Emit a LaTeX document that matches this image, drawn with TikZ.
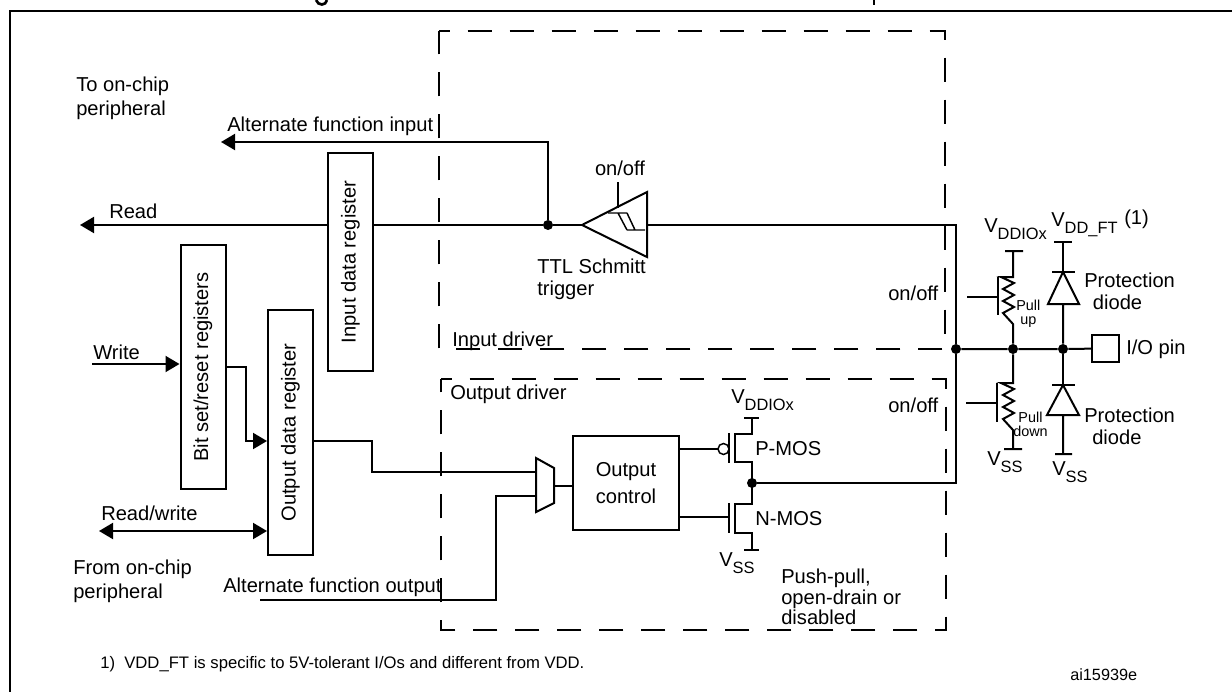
\documentclass[tikz,border=0pt]{standalone}
\usepackage{fontspec}
\setmainfont{Liberation Sans}
\usepackage{xcolor}
\usetikzlibrary{arrows.meta, calc}
\newcommand{\vsub}[1]{V\raisebox{-5pt}{\fontsize{12.3}{14}\selectfont #1}}
\tikzset{
  wire/.style={line width=1.5pt},
  lbl/.style={inner sep=0pt, align=left, font=\fontsize{15.1}{18}\selectfont},
  tiny/.style={inner sep=0pt, align=center, font=\fontsize{10.8}{10.5}\selectfont},
  dot/.style={circle, fill=black, inner sep=0pt, minimum size=7.5pt},
  regbox/.style={draw, fill=white, line width=1.5pt, inner sep=0pt, rotate=90, minimum height=33.75pt, font=\fontsize{15.1}{18}\selectfont},
  dashbox/.style={line width=1.5pt, dash pattern=on 18pt off 13.5pt, dash phase=10pt}
}
\begin{document}
\begin{tikzpicture}[x=0.75pt, y=-0.75pt, >={Triangle[length=10.5pt,width=12pt]}]
  \useasboundingbox (0,0) rectangle (1232,692);
  % Frame and what is left of the cut off heading
  \draw[line width=2.2pt] (10,692) -- (10,11) -- (1232,11);
  \draw[line width=2pt] (316,0) .. controls (318,6) and (326,6) .. (327,0);
  \draw[line width=2pt] (874,0) -- (874,5);
  % Driver boxes
  \draw[dashbox] (439,31) -- (945,31) -- (945,349) -- (439,349) -- cycle;
  \draw[dashbox] (441,379) -- (946,379) -- (946,630) -- (441,630) -- cycle;
  % Registers
  \node[regbox, minimum width=163.5pt] (inreg) at (350.5,262) {Input data register};
  \node[regbox, minimum width=183pt] (bitreg) at (203,367) {Bit set/reset registers};
  \node[regbox, minimum width=183.75pt] (outreg) at (290.5,432.5) {Output data register};
  \node[draw, line width=1.5pt, minimum width=79.5pt, minimum height=70.5pt, inner sep=0pt, align=center, font=\fontsize{15.1}{20}\selectfont] (ctrl) at (626,483) {Output\\control};
  \node[draw, line width=1.2pt, minimum size=20.25pt, inner sep=0pt] (pin) at (1105.5,348.5) {};
  % Junctions
  \node[dot] (readdot) at (548,225) {};
  \node[dot] (busdot) at (956,349) {};
  \node[dot] (pulldot) at (1013,349) {};
  \node[dot] (diodedot) at (1063,349) {};
  \node[dot] (pushdot) at (752,483) {};
  % Free ends
  \coordinate (readtip) at (80,225);
  \coordinate (aftip) at (221,142);
  \coordinate (writein) at (92,364);
  \coordinate (rwtip) at (99,531);
  \coordinate (afout) at (260,600);
  \coordinate (bufin) at (582,225);
  \coordinate (bufout) at (647,225);
  \coordinate (muxa) at (536,472);
  \coordinate (muxb) at (536,496);
  \coordinate (muxout) at (554,486);
  % Input path
  \path[wire, <-] (readtip) edge (inreg.north |- readtip);
  \draw[wire] (inreg.south |- readtip) -- (readdot) -- (bufin);
  \draw[wire, ->] (readdot) |- (aftip);
  \draw[wire] (bufout) -| (busdot);
  \draw[wire] (busdot) |- (pushdot);
  % Schmitt buffer
  \draw[wire] (bufin) -- (647,192) -- (647,257) -- cycle;
  \draw[line width=1.1pt] (618,182) -- (618,208);
  \draw[line width=1.1pt] (608,213) -- (627,213) (618,213) -- (627,230) (627,213) -- (635,230) (627,230) -- (645,230);
  % Output path
  \path[wire, ->] (writein) edge (bitreg.north |- writein);
  \draw[wire, ->] (bitreg.south |- 0,367) -- (246,367) |- (outreg.north |- 0,441);
  \path[wire, <->] (rwtip) edge (outreg.north |- rwtip);
  \draw[wire] (outreg.south |- 0,441) -- (372,441) |- (muxa);
  \draw[wire] (afout) -| (496,496) -- (muxb);
  \draw[wire] (536,458) -- (554,468) -- (554,503) -- (536,512) -- cycle;
  \draw[wire] (muxout) -- (ctrl.west |- muxout);
  % P-MOS and N-MOS
  \draw[wire] (ctrl.east |- 0,449) -- (718,449);
  \draw[line width=1.1pt] (723.5,449) circle[radius=5.5];
  \draw[wire] (729,433) -- (729,463);
  \draw[wire] (744,418) -- (759,418) (752,418) -- (752,434) -- (735,434) -- (735,462) -- (752,462) -- (752,504) -- (735,504) -- (735,533) -- (752,533) -- (752,550) (744,550) -- (759,550);
  \draw[wire] (ctrl.east |- 0,517) -- (729,517);
  \draw[wire] (729,503) -- (729,533);
  % Pull resistors
  \draw[wire] (1005,251) -- (1023,251) (1013,251) -- (1013,277) -- (1001,277) -- (1014,283) -- (1003,289) -- (1014,295) -- (1003,301) -- (1014,307) -- (1003,313) -- (1013,324) -- (pulldot);
  \draw[wire] (998,277) -- (998,315) (967,297) -- (998,297);
  \draw[wire] (pulldot) -- (1013,383) -- (1001,383) -- (1014,389) -- (1003,395) -- (1014,401) -- (1003,407) -- (1014,413) -- (1003,419) -- (1013,430) -- (1013,449) (1004,449) -- (1022,449);
  \draw[wire] (997,383) -- (997,422) (966,403) -- (997,403);
  % Protection diodes
  \draw[wire] (1054,242) -- (1072,242) (1063,242) -- (1063,272) (1052,272) -- (1075,272);
  \draw[wire] (1063,272) -- (1048,304) -- (1079,304) -- cycle (1063,304) -- (diodedot);
  \draw[wire] (diodedot) -- (1063,385) (1052,385) -- (1075,385);
  \draw[wire] (1063,385) -- (1047,415) -- (1079,415) -- cycle (1063,415) -- (1063,454) (1055,454) -- (1072,454);
  % Bus to the pin
  \draw[wire] (busdot) -- (pulldot) -- (diodedot) -- (pin);
  % Labels
  \node[lbl, anchor=west] (tochip) at (76,98) {To on-chip\\peripheral};
  \node[lbl, anchor=west] (aflabel) at (227,126) {Alternate function input};
  \node[lbl, anchor=west] (readlabel) at (109,211) {Read};
  \node[lbl, anchor=west] (writelabel) at (93,352) {Write};
  \node[lbl, anchor=west] (rwlabel) at (101,513) {Read/write};
  \node[lbl, anchor=west] (fromchip) at (73,581) {From on-chip\\peripheral};
  \node[lbl, anchor=west] (aoflabel) at (223,587) {Alternate function output};
  \node[lbl] (bufon) at (620,168) {on/off};
  \node[lbl, anchor=west] (ttl) at (537,279) {TTL Schmitt\\[-1.5pt]trigger};
  \node[lbl, anchor=west] (indrv) at (452,341) {Input driver};
  \node[lbl, anchor=west] (outdrv) at (450,394) {Output driver};
  \node[lbl, anchor=west] (onup) at (888,293) {on/off};
  \node[lbl, anchor=west] (ondown) at (888,405) {on/off};
  \node[lbl, anchor=west] (vddout) at (731,400) {\vsub{DDIOx}};
  \node[lbl, anchor=west] (pmos) at (755,449) {P-MOS};
  \node[lbl, anchor=west] (nmos) at (755,519) {N-MOS};
  \node[lbl, anchor=west] (vssout) at (719,563) {\vsub{SS}};
  \node[lbl, anchor=west] (pushlabel) at (781,597) {Push-pull,\\[-2.5pt]open-drain or\\[-2.5pt]disabled};
  \node[lbl, anchor=west] (vddio) at (984,229) {\vsub{DDIOx}};
  \node[lbl, anchor=west] (vddft) at (1051,225) {\vsub{DD\_FT}};
  \node[lbl, anchor=west] (vddnote) at (1124,219) {(1)};
  \node[tiny, anchor=west] (pullup) at (1016,314) {Pull\\up};
  \node[tiny, anchor=west] (pulldown) at (1013,424) {Pull\\down};
  \node[lbl, anchor=west] (protup) at (1084,291) {Protection\\[-1.5pt]\hspace*{6.5pt}diode};
  \node[lbl, anchor=west] (protdown) at (1084,426) {Protection\\[-1.5pt]\hspace*{6pt}diode};
  \node[lbl, anchor=west] (iopin) at (1126,349) {I/O pin};
  \node[lbl, anchor=west] (vsspull) at (987,462) {\vsub{SS}};
  \node[lbl, anchor=west] (vssdiode) at (1052,472) {\vsub{SS}};
  \node[inner sep=0pt, anchor=west, font=\fontsize{12.5}{14}\selectfont] (note) at (100,664) {1)\ \ VDD\_FT is specific to 5V-tolerant I/Os and different from VDD.};
  \node[inner sep=0pt, anchor=west, font=\fontsize{12.2}{14}\selectfont] (code) at (1070,675) {ai15939e};
\end{tikzpicture}
\end{document}
